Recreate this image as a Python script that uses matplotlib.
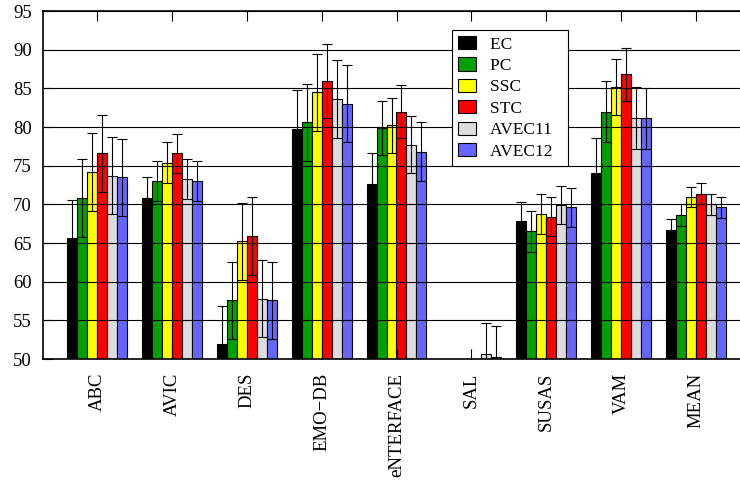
import numpy as np
import matplotlib
matplotlib.use("Agg")
import matplotlib.pyplot as plt
from matplotlib.patches import Patch

# datos
grupos = ["ABC", "AVIC", "DES", "EMO\u2212DB", "eNTERFACE", "SAL", "SUSAS", "VAM", "MEAN"]
series = ["EC", "PC", "SSC", "STC", "AVEC11", "AVEC12"]
colores = ["#000000", "#00a000", "#ffff00", "#ff0000", "#dcdcdc", "#6666ff"]

ec = [65.6, 70.8, 51.9, 79.8, 72.6, 45.0, 67.8, 74.0, 66.7]
ec_err = [5.0, 2.7, 5.0, 5.0, 4.0, 4.0, 2.5, 4.6, 1.4]
pc = [70.8, 73.0, 57.6, 80.6, 79.9, 45.0, 66.5, 82.0, 68.6]
pc_err = [5.0, 2.6, 5.0, 5.0, 3.5, 4.0, 2.6, 4.0, 1.4]
ssc = [74.2, 75.4, 65.2, 84.5, 80.2, 45.0, 68.8, 85.2, 70.9]
ssc_err = [5.0, 2.6, 5.0, 5.0, 3.6, 4.0, 2.6, 3.6, 1.3]
stc = [76.6, 76.6, 65.9, 85.9, 82.0, 45.0, 68.4, 86.8, 71.4]
stc_err = [5.0, 2.5, 5.0, 4.8, 3.4, 4.0, 2.5, 3.4, 1.3]
avec11 = [73.7, 73.3, 57.8, 83.6, 77.7, 50.7, 69.9, 81.2, 70.0]
avec11_err = [5.0, 2.6, 5.0, 5.0, 3.7, 4.0, 2.5, 4.0, 1.4]
avec12 = [73.5, 73.0, 57.6, 83.0, 76.8, 50.3, 69.6, 81.1, 69.6]
avec12_err = [5.0, 2.6, 5.0, 5.0, 3.8, 4.0, 2.5, 4.0, 1.4]

valores = [ec, pc, ssc, stc, avec11, avec12]
errores = [ec_err, pc_err, ssc_err, stc_err, avec11_err, avec12_err]

plt.rcParams["font.family"] = ["Liberation Serif", "DejaVu Serif"]

fig = plt.figure(figsize=(7.4, 4.82), dpi=100)
ax = fig.add_axes([43 / 740, 1 - 359 / 482, 707 / 740, 348 / 482])

x = np.arange(len(grupos))
ancho = 10 / 75

for i, (vals, errs, col) in enumerate(zip(valores, errores, colores)):
    pos = x + (i - 2.5) * ancho
    ax.bar(pos, vals, width=ancho, color=col, edgecolor="black", linewidth=0.8, zorder=1)
    ax.errorbar(pos, vals, yerr=errs, fmt="none", ecolor="black", elinewidth=0.8,
                capsize=3.4, capthick=0.8, zorder=3)

ax.set_ylim(50, 95)
ax.set_xlim(-0.72, 8.72)
ax.set_yticks(np.arange(50, 96, 5))
ax.set_xticks(x)
ax.set_xticklabels(grupos, rotation=90, fontsize=13.5)
ax.tick_params(axis="y", labelsize=13.5, direction="in", length=7, right=True, pad=8)
ax.tick_params(axis="x", direction="in", length=7, top=True, bottom=True, pad=10)
ax.yaxis.grid(True, color="black", linewidth=0.8)
ax.set_axisbelow(False)
for s in ax.spines.values():
    s.set_linewidth(1.2)

handles = [Patch(facecolor=c, edgecolor="black", linewidth=0.8) for c in colores]
leg = ax.legend(handles, [s + "  " for s in series], loc="upper left",
                bbox_to_anchor=(0.5785, 0.9454),
                borderaxespad=0, fontsize=12.5, fancybox=False, framealpha=1,
                edgecolor="black", handlelength=1.05, handleheight=0.8,
                handletextpad=0.8, labelspacing=0.27, borderpad=0.35)
leg.get_frame().set_linewidth(0.8)
leg.set_zorder(5)

fig.savefig("out.png", dpi=100)
